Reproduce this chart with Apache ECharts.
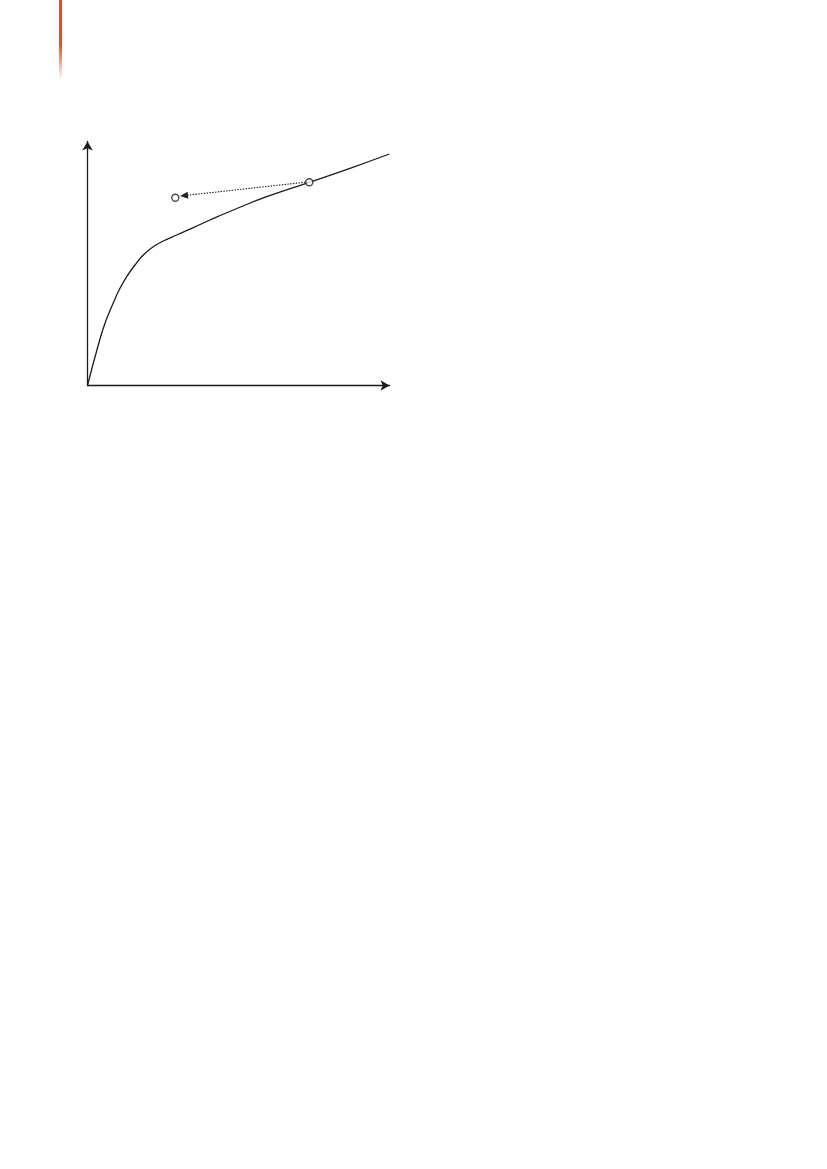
<!DOCTYPE html>
<html>
<head>
<meta charset="utf-8">
<script src="https://cdn.jsdelivr.net/npm/echarts@6/dist/echarts.min.js"></script>
<style>html,body{margin:0;padding:0;background:#fff;}#c{width:827px;height:1169px;}</style>
</head>
<body>
<div id="c"></div>
<script>
// Curve points (arbitrary units: x 0..302, y 0..244)
var curveX = [0, 10.8, 17.5, 25.2, 32.5, 39.2, 47.5, 55.8, 65.8, 75.8, 89.2, 105.8, 122.5, 145.8, 179.2, 221.8, 262.5, 301.8];
var curveY = [0, 40.5, 62.2, 81.2, 97.2, 108.8, 120.5, 130.5, 138.8, 144.5, 150.5, 157.8, 165.5, 175.5, 188.8, 203.2, 217.2, 231.5];
// Marked points: on-curve point and the shifted point
var pointOnCurve = [221.8, 203.2];
var pointShifted = [87.8, 187.8];
// Dotted arrow from the on-curve point toward the shifted point
var arrowStart = [218, 203.3];
var arrowEnd = [96.5, 189.9];

var curveData = curveX.map(function (x, i) { return [x, curveY[i]]; });

var chart = echarts.init(document.getElementById('c'), null, {renderer: 'canvas'});
var axisLine = {
  show: true,
  symbol: ['none', 'arrow'],
  symbolSize: [8, 9],
  lineStyle: {color: '#1a1a1a', width: 1.3}
};
chart.setOption({
  animation: false,
  backgroundColor: '#ffffff',
  graphic: [{
    type: 'rect',
    shape: {x: 59, y: 0, width: 3, height: 80},
    style: {
      fill: {
        type: 'linear', x: 0, y: 0, x2: 0, y2: 1,
        colorStops: [
          {offset: 0, color: '#e94b26'},
          {offset: 0.55, color: '#e94b26'},
          {offset: 1, color: 'rgba(233,75,38,0)'}
        ]
      }
    }
  }],
  grid: {left: 87.5, top: 141.5, width: 302, height: 244},
  xAxis: {
    type: 'value', min: 0, max: 302,
    axisLine: axisLine,
    axisTick: {show: false}, axisLabel: {show: false}, splitLine: {show: false}
  },
  yAxis: {
    type: 'value', min: 0, max: 244,
    axisLine: axisLine,
    axisTick: {show: false}, axisLabel: {show: false}, splitLine: {show: false}
  },
  series: [{
    type: 'line',
    data: curveData,
    smooth: 0.5,
    symbol: 'none',
    lineStyle: {color: '#1a1a1a', width: 1.3},
    markLine: {
      silent: true,
      symbol: ['none', 'triangle'],
      symbolSize: [7, 8],
      label: {show: false},
      lineStyle: {color: '#222', width: 1.1, type: [1.5, 1.3]},
      itemStyle: {color: '#222'},
      data: [[{coord: arrowStart}, {coord: arrowEnd}]]
    },
    z: 2
  }, {
    type: 'scatter',
    data: [pointOnCurve, pointShifted],
    symbol: 'circle',
    symbolSize: 7,
    itemStyle: {color: '#ffffff', borderColor: '#1a1a1a', borderWidth: 1.4},
    z: 3
  }]
});
</script>
</body>
</html>
